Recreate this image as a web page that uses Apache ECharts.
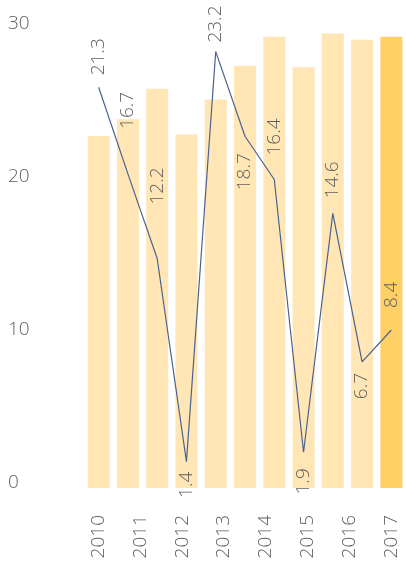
<!DOCTYPE html>
<html>
<head>
<meta charset="utf-8">
<script src="https://cdn.jsdelivr.net/npm/echarts@6/dist/echarts.min.js"></script>
<style>
html,body{margin:0;padding:0;background:#fff;}
#chart{width:406px;height:562px;}
</style>
</head>
<body>
<div id="chart"></div>
<script>
// ---- data ----
const periods = ['p1','p2','p3','p4','p5','p6','p7','p8','p9','p10','p11'];
const barValues = [23.0, 24.1, 26.1, 23.1, 25.4, 27.6, 29.5, 27.5, 29.7, 29.3, 29.5];
const lineValues = [21.3, 16.7, 12.2, 1.4, 23.2, 18.7, 16.4, 1.9, 14.6, 6.7, 8.4];
const yearLabels = [2010, 2011, 2012, 2013, 2014, 2015, 2016, 2017];
const yTicks = [0, 10, 20, 30];

// ---- label placement (style, not data) ----
const labelSide = ['top','top','top','bottom','top','bottom','top','bottom','top','bottom','top'];
const labelDist = [12, 45, 54, 10, 9, 17, 24, 16, 15, 11, 22];

const FONT = '"Open Sans", "Noto Sans", sans-serif';
const TXT = '#5e5e5e';
const FW = 300;

const barData = barValues.map((v, i) => i === barValues.length - 1
  ? { value: v, itemStyle: { color: '#FFD066' } }
  : v);

const rich = { t: { color: TXT, fontSize: 19, fontWeight: FW, fontFamily: FONT } };
labelDist.forEach((d, i) => { rich['g' + i] = { width: d, height: 1 }; });

const lineData = lineValues.map((v, i) => {
  const up = labelSide[i] === 'top';
  return {
    value: v,
    label: {
      position: 'inside',
      align: up ? 'left' : 'right',
      verticalAlign: 'middle'
    }
  };
});

const chart = echarts.init(document.getElementById('chart'), null, { renderer: 'canvas' });
chart.setOption({
  animation: false,
  backgroundColor: '#ffffff',
  grid: { left: 84, right: -4, top: 29, bottom: 74, containLabel: false },
  xAxis: [
    {
      type: 'category',
      data: periods,
      boundaryGap: true,
      axisLine: { show: false },
      axisTick: { show: false },
      axisLabel: { show: false },
      splitLine: { show: false }
    },
    {
      type: 'value',
      position: 'bottom',
      min: yearLabels[0] - 0.35,
      max: yearLabels[yearLabels.length - 1] + 0.35,
      axisLine: { show: false },
      axisTick: { show: false },
      splitLine: { show: false },
      axisLabel: {
        customValues: yearLabels,
        rotate: 90,
        margin: 27,
        color: TXT,
        fontSize: 19,
        fontWeight: FW,
        fontFamily: FONT,
        formatter: v => String(Math.round(v))
      }
    }
  ],
  yAxis: [
    {
      type: 'value',
      min: yTicks[0],
      max: yTicks[yTicks.length - 1],
      interval: 10,
      axisLine: { show: false },
      axisTick: { show: false },
      splitLine: { show: false },
      axisLabel: {
        align: 'left',
        verticalAlign: 'bottom',
        lineHeight: 11,
        margin: 76,
        color: TXT,
        fontSize: 19,
        fontWeight: FW,
        fontFamily: FONT
      }
    },
    {
      type: 'value',
      min: 0,
      max: 24.4,
      show: false
    }
  ],
  series: [
    {
      type: 'bar',
      xAxisIndex: 0,
      yAxisIndex: 0,
      data: barData,
      barWidth: 22,
      itemStyle: { color: '#FFE6B4' },
      z: 1
    },
    {
      type: 'line',
      xAxisIndex: 0,
      yAxisIndex: 1,
      data: lineData,
      symbol: 'circle',
      symbolSize: 1,
      showSymbol: true,
      itemStyle: { color: 'rgba(0,0,0,0)', borderWidth: 0 },
      smooth: false,
      lineStyle: { color: '#4A6291', width: 1.2 },
      label: {
        show: true,
        rotate: 90,
        color: TXT,
        opacity: 1,
        fontSize: 19,
        fontWeight: FW,
        fontFamily: FONT,
        rich: rich,
        formatter: p => {
          const i = p.dataIndex;
          const txt = '{t|' + p.value.toFixed(1) + '}';
          const gap = '{g' + i + '|}';
          return labelSide[i] === 'top' ? gap + txt : txt + gap;
        }
      },
      z: 3
    }
  ]
});
</script>
</body>
</html>
